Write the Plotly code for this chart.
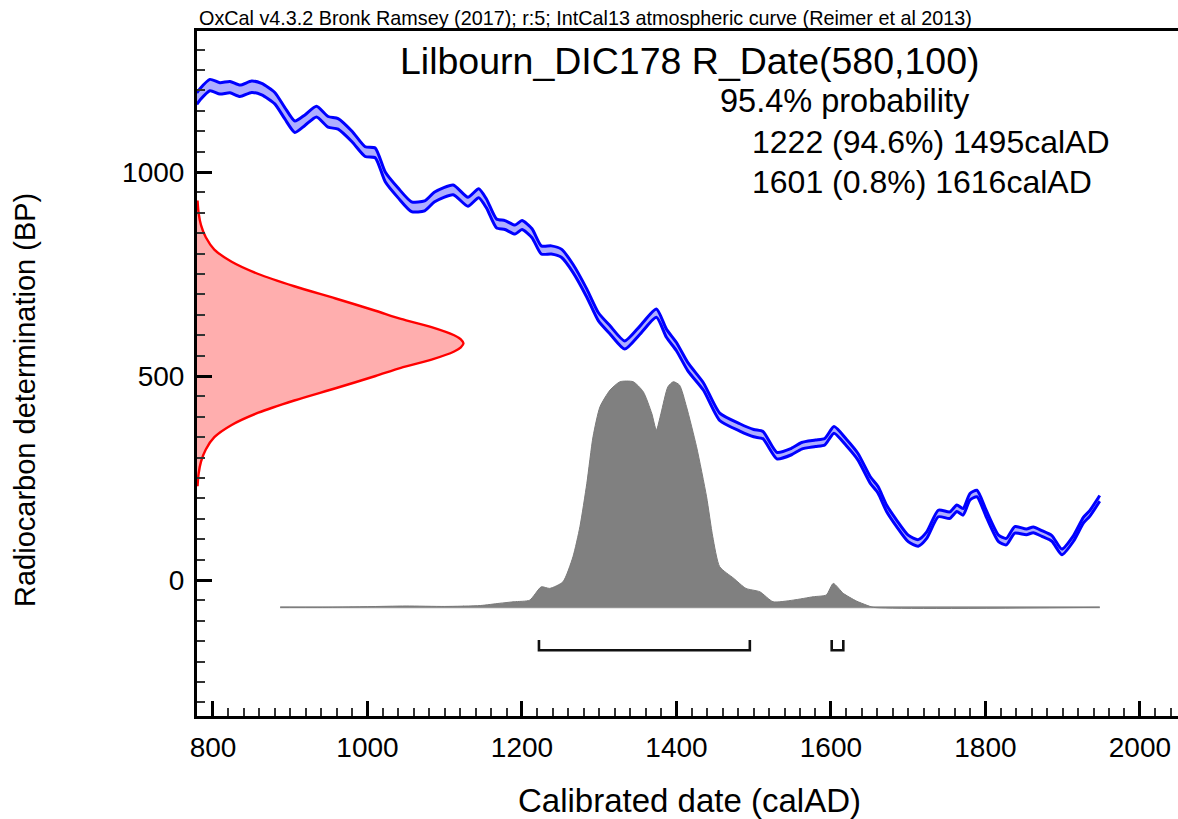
import plotly.graph_objects as go

# ---------------- data ----------------
# IntCal13 calibration curve: calendar year AD, BP, 1-sigma
cal_year = [779, 783, 796, 809, 822, 835, 850, 863, 880, 893, 906, 919, 934, 949, 962,
            980, 997, 1010, 1023, 1040, 1057, 1074, 1087, 1111, 1130, 1144, 1154, 1167,
            1178, 1191, 1200, 1213, 1225, 1238, 1251, 1266, 1284, 1299, 1314, 1333, 1353,
            1374, 1387, 1400, 1415, 1435, 1456, 1482, 1500, 1512, 1530, 1549, 1562, 1580,
            1592, 1604, 1620, 1635, 1651, 1661, 1672, 1685, 1700, 1713, 1724, 1739, 1754,
            1763, 1771, 1780, 1789, 1801, 1817, 1827, 1838, 1853, 1862, 1873, 1886, 1899,
            1914, 1927, 1935, 1948]
cal_bp = [1180, 1190, 1213, 1205, 1208, 1199, 1209, 1203, 1181, 1144, 1111, 1127, 1148, 1123, 1118,
          1087, 1050, 1047, 988, 948, 915, 917, 939, 956, 927, 948, 923, 874,
          870, 859, 870, 850, 809, 809, 801, 764, 703, 645, 613, 576, 613,
          654, 605, 572, 522, 474, 400, 374, 360, 355, 305, 315, 329, 335,
          339, 368, 337, 302, 245, 221, 176, 139, 102, 91, 110, 163, 159,
          176, 167, 204, 212, 163, 102, 94, 123, 118, 123, 114, 102, 69,
          102, 147, 163, 200]
cal_err = [14, 14, 14, 14, 14, 14, 14, 14, 14, 14, 14, 13, 13, 13, 13,
           13, 12, 12, 12, 12, 12, 12, 12, 12, 11, 11, 11, 11,
           11, 11, 11, 11, 10, 10, 10, 10, 10, 10, 10, 10, 10,
           10, 10, 10, 10, 9, 9, 9, 9, 9, 8, 8, 8, 8,
           8, 8, 8, 8, 8, 8, 8, 8, 8, 8, 8, 8, 8,
           8, 8, 8, 8, 8, 8, 8, 8, 7, 7, 7, 7, 7,
           7, 7, 7, 7]

# Radiocarbon determination R_Date(580,100): BP values and relative density
red_bp = [930, 900, 870, 840, 810, 780, 750, 720, 690, 660, 640, 620, 600, 590, 580,
          570, 560, 540, 520, 500, 470, 440, 410, 380, 350, 320, 290, 260, 230]
red_rel = [0.002, 0.006, 0.015, 0.033, 0.065, 0.13, 0.23, 0.365, 0.52, 0.67, 0.765, 0.88, 0.965, 0.99, 1.0,
           0.99, 0.965, 0.88, 0.765, 0.67, 0.52, 0.365, 0.23, 0.13, 0.065, 0.033, 0.015, 0.006, 0.002]

# Calibrated probability distribution (relative)
dist_year = [887, 950, 1000, 1050, 1100, 1146, 1171, 1190, 1210, 1225, 1236, 1253, 1266, 1275,
             1284, 1292, 1301, 1314, 1327, 1344, 1357, 1368, 1374, 1380, 1389, 1396, 1404,
             1413, 1426, 1439, 1447, 1456, 1474, 1490, 1508, 1525, 1551, 1577, 1594, 1603,
             1616, 1633, 1646, 1655, 1948]
dist_prob = [0.0, 0.0, 0.003, 0.006, 0.004, 0.008, 0.018, 0.025, 0.032, 0.091, 0.084, 0.113, 0.224, 0.357,
             0.55, 0.756, 0.889, 0.963, 1.0, 1.0, 0.956, 0.86, 0.786, 0.86, 0.978, 1.0, 0.985,
             0.889, 0.712, 0.49, 0.313, 0.18, 0.129, 0.084, 0.069, 0.025, 0.032, 0.047, 0.055, 0.106,
             0.062, 0.028, 0.01, 0.0, 0.0]

# 95.4% ranges
ranges = [(1222, 1495), (1601, 1616)]

x_ticks = [800, 1000, 1200, 1400, 1600, 1800, 2000]
y_ticks = [0, 500, 1000]

# ---------------- styling constants ----------------
X0, X1 = 779.3, 2049.3
Y0, Y1 = -333.3, 1345.6
RED_W = 345          # peak width of the R_Date curve in years
BASE, HGT = -67, 553  # baseline and height of the calibrated distribution in BP units
BR_LO, BR_HI = -172, -147
FONT = "Liberation Sans, Arial, sans-serif"

fig = go.Figure()

# calibration curve band
lower = [b - e for b, e in zip(cal_bp, cal_err)]
upper = [b + e for b, e in zip(cal_bp, cal_err)]
fig.add_trace(go.Scatter(x=cal_year, y=lower, mode="lines",
                         line=dict(color="#0000ff", width=3, shape="spline", smoothing=0.6),
                         hoverinfo="skip"))
fig.add_trace(go.Scatter(x=cal_year, y=upper, mode="lines", fill="tonexty",
                         fillcolor="rgba(120,120,255,0.6)",
                         line=dict(color="#0000ff", width=3, shape="spline", smoothing=0.6),
                         hoverinfo="skip"))

# R_Date curve
red_x = [X0 + r * RED_W for r in red_rel]
fig.add_trace(go.Scatter(x=red_x, y=red_bp, mode="lines", fill="tozerox",
                         fillcolor="rgba(255,120,120,0.6)",
                         line=dict(color="#ff0000", width=2.4, shape="spline", smoothing=0.8),
                         hoverinfo="skip"))

# calibrated distribution
fig.add_trace(go.Scatter(x=[dist_year[0], dist_year[-1]], y=[BASE, BASE], mode="lines",
                         line=dict(color="#9a9a9a", width=2), hoverinfo="skip"))
dist_y = [BASE + p * HGT for p in dist_prob]
fig.add_trace(go.Scatter(x=dist_year, y=dist_y, mode="lines", fill="toself",
                         fillcolor="#808080",
                         line=dict(color="#7a7a7a", width=1, shape="spline", smoothing=0.6),
                         hoverinfo="skip"))

# range brackets
for a, b in ranges:
    fig.add_trace(go.Scatter(x=[a, a, b, b], y=[BR_HI, BR_LO, BR_LO, BR_HI], mode="lines",
                             line=dict(color="#111111", width=2.6), hoverinfo="skip"))

axis_common = dict(showgrid=False, zeroline=False, showline=True, linecolor="black",
                   linewidth=3, ticks="inside", ticklen=15, tickwidth=2.5, tickcolor="black",
                   tickfont=dict(family=FONT, size=28, color="black"))

fig.update_layout(
    width=1178, height=819,
    margin=dict(l=197, r=0, t=31, b=103),
    plot_bgcolor="white", paper_bgcolor="white",
    showlegend=False,
    xaxis=dict(range=[X0, X1], tickvals=x_ticks, mirror=True, ticklabelstandoff=4,
               minor=dict(ticks="inside", dtick=20, tick0=800, ticklen=8, tickwidth=2,
                          tickcolor="#333333"),
               **axis_common),
    yaxis=dict(range=[Y0, Y1], tickvals=y_ticks, ticklabelstandoff=4,
               minor=dict(ticks="inside", dtick=50, tick0=0, ticklen=8, tickwidth=2,
                          tickcolor="#333333"),
               **axis_common),
)

PW, PH = 981, 685
def px(x):
    return (x - 197) / PW
def py(y):
    return (716 - y) / PH

ann = [
    dict(text="OxCal v4.3.2 Bronk Ramsey (2017); r:5; IntCal13 atmospheric curve (Reimer et al 2013)",
         x=px(197), y=py(18), xanchor="left", yanchor="middle", font=dict(size=19.8)),
    dict(text="Lilbourn_DIC178 R_Date(580,100)", x=px(690), y=py(61), xanchor="center",
         yanchor="middle", font=dict(size=37.5)),
    dict(text="95.4% probability", x=px(718), y=py(101), xanchor="left", yanchor="middle",
         font=dict(size=32.5)),
    dict(text="1222 (94.6%) 1495calAD", x=px(750), y=py(142), xanchor="left", yanchor="middle",
         font=dict(size=32)),
    dict(text="1601 (0.8%) 1616calAD", x=px(750), y=py(182), xanchor="left", yanchor="middle",
         font=dict(size=32)),
    dict(text="Calibrated date (calAD)", x=px(689), y=py(800), xanchor="center", yanchor="middle",
         font=dict(size=33)),
    dict(text="Radiocarbon determination (BP)", x=px(25), y=py(400), xanchor="center",
         yanchor="middle", textangle=-90, font=dict(size=29)),
]
for a in ann:
    a.update(xref="paper", yref="paper", showarrow=False)
    a["font"].update(family=FONT, color="black")
fig.update_layout(annotations=ann)

fig.write_html("out.html")
